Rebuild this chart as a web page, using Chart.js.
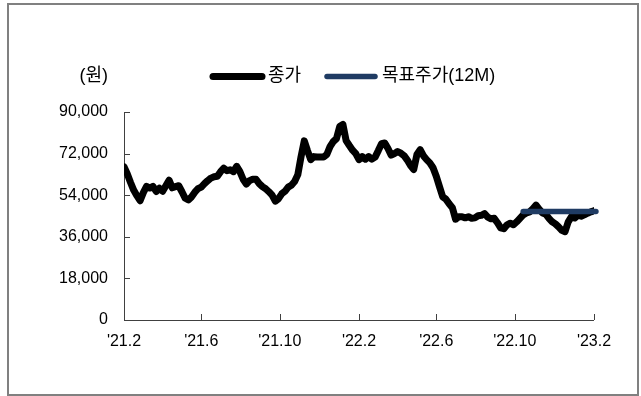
<!DOCTYPE html>
<html>
<head>
<meta charset="utf-8">
<style>
  html, body { margin: 0; padding: 0; background: #fff; }
  #wrap { width: 641px; height: 396px; }
  canvas { display: block; }
</style>
<script src="https://cdn.jsdelivr.net/npm/chart.js@4/dist/chart.umd.min.js"></script>
</head>
<body>
<div id="wrap"><canvas id="c" width="641" height="396"></canvas></div>
<script>
// Closing price, one value every 5 calendar days from 2021-02-01
const stepDays = 5;
const closePrices = [
  66300, 63300, 59600, 56200, 53800, 51600, 55100, 57800, 57100, 57800,
  55600, 57000, 55700, 58100, 60500, 57200, 57700, 58100, 55500, 52700,
  52000, 53300, 55300, 56800, 57500, 59000, 60300, 61400, 62000, 62200,
  64200, 65700, 64600, 65000, 64200, 66500, 64200, 60900, 58800, 60300,
  60900, 60900, 59000, 57700, 56800, 55500, 54000, 51400, 52500, 54600,
  55700, 57500, 58300, 59900, 62900, 70700, 77500, 73300, 69400, 70700,
  70500, 70500, 70500, 71600, 75000, 77200, 78500, 83700, 84600, 77600,
  75500, 73500, 72000, 69400, 70700, 69600, 70700, 69600, 70500, 73300,
  76300, 76600, 74200, 71300, 72000, 72900, 72200, 71100, 69200, 66800,
  65100, 71600, 73700, 71100, 69400, 68000, 65900, 62200, 57700, 53300,
  52300, 50300, 48600, 43600, 44700, 44700, 44200, 44700, 44000, 44200,
  45100, 45300, 46000, 44500, 43800, 44000, 42100, 39900, 39500, 41200,
  41900, 41200, 42500, 44000, 45500, 46300, 46800, 48100, 49700, 47900,
  46300, 45800, 44000, 42500, 41600, 40300, 38800, 38200, 42500, 44700,
  44100, 45300, 44900, 45500, 46200, 46800, 47300
];

// 12-month target price (days since 2021-02-01)
const targetDays = [620, 733];
const targetPrices = [47000, 47000];

// Axis ticks
const xTickDays = [0, 120, 242, 365, 485, 607, 730];
const xTickLabels = ["'21.2", "'21.6", "'21.10", "'22.2", "'22.6", "'22.10", "'23.2"];
const yTickValues = [0, 18000, 36000, 54000, 72000, 90000];

const seriesNames = ['종가', '목표주가(12M)'];
const unitLabel = '(원)';

const FONT = '"Liberation Sans", Arial, "Noto Sans CJK KR", sans-serif';

const closePoints = closePrices.map((v, i) => ({ x: i * stepDays, y: v }));
const targetPoints = targetDays.map((d, i) => ({ x: d, y: targetPrices[i] }));

// Frame, axis lines with inward ticks, unit label and legend
const decorations = {
  id: 'decorations',
  beforeDraw(chart) {
    const ctx = chart.ctx;
    ctx.save();
    ctx.strokeStyle = '#808080';
    ctx.lineWidth = 2;
    ctx.strokeRect(8, 4, 630, 391);
    ctx.restore();
  },
  beforeDatasetsDraw(chart) {
    const ctx = chart.ctx;
    const xs = chart.scales.x, ys = chart.scales.y;
    const left = xs.getPixelForValue(0);
    const right = xs.getPixelForValue(730);
    const bottom = ys.getPixelForValue(0);
    const top = ys.getPixelForValue(90000);
    ctx.save();
    ctx.strokeStyle = '#404040';
    ctx.lineWidth = 1;
    ctx.beginPath();
    ctx.moveTo(left + 0.5, top);
    ctx.lineTo(left + 0.5, bottom + 0.5);
    ctx.lineTo(right, bottom + 0.5);
    yTickValues.forEach(v => {
      const py = Math.round(ys.getPixelForValue(v)) + 0.5;
      ctx.moveTo(left, py);
      ctx.lineTo(left + 6, py);
    });
    xTickDays.forEach(d => {
      const px = Math.round(xs.getPixelForValue(d)) + 0.5;
      ctx.moveTo(px, bottom);
      ctx.lineTo(px, bottom - 6);
    });
    ctx.stroke();
    ctx.restore();
  },
  afterDraw(chart) {
    const ctx = chart.ctx;
    const ly = 76.5;
    ctx.save();
    ctx.font = '18px ' + FONT;
    ctx.fillStyle = '#000';
    ctx.textBaseline = 'middle';
    ctx.textAlign = 'right';
    ctx.fillText(unitLabel, 108, ly);

    const items = [
      { x0: 213, x1: 262, tx: 268 },
      { x0: 327, x1: 375, tx: 382 }
    ];
    ctx.textAlign = 'left';
    ctx.lineCap = 'round';
    items.forEach((it, i) => {
      const ds = chart.data.datasets[i];
      ctx.strokeStyle = ds.borderColor;
      ctx.lineWidth = ds.borderWidth;
      ctx.beginPath();
      ctx.moveTo(it.x0, ly);
      ctx.lineTo(it.x1, ly);
      ctx.stroke();
      ctx.fillText(ds.label, it.tx, ly);
    });
    ctx.restore();
  }
};

new Chart(document.getElementById('c'), {
  type: 'line',
  data: {
    datasets: [
      {
        label: seriesNames[0],
        data: closePoints,
        borderColor: '#000000',
        borderWidth: 7,
        borderCapStyle: 'round',
        borderJoinStyle: 'round',
        pointRadius: 0,
        tension: 0,
        fill: false,
        order: 1
      },
      {
        label: seriesNames[1],
        data: targetPoints,
        borderColor: '#1f3b63',
        borderWidth: 5.5,
        borderCapStyle: 'round',
        borderJoinStyle: 'round',
        pointRadius: 0,
        tension: 0,
        fill: false,
        clip: false,
        order: 0
      }
    ]
  },
  options: {
    responsive: false,
    animation: false,
    devicePixelRatio: 1,
    layout: { padding: { left: 0, top: 112, right: 47, bottom: 36 } },
    plugins: {
      legend: { display: false },
      tooltip: { enabled: false }
    },
    scales: {
      x: {
        type: 'linear',
        min: 0,
        max: 730,
        grid: { display: false, drawTicks: false },
        border: { display: false },
        afterBuildTicks(scale) {
          scale.ticks = xTickDays.map(v => ({ value: v }));
        },
        afterFit(scale) { scale.height = 40; },
        ticks: {
          autoSkip: false,
          maxRotation: 0,
          padding: 12,
          color: '#000',
          font: { family: FONT, size: 16 },
          callback(value) {
            const k = xTickDays.indexOf(value);
            return k >= 0 ? xTickLabels[k] : '';
          }
        }
      },
      y: {
        min: 0,
        max: 90000,
        grid: { display: false, drawTicks: false },
        border: { display: false },
        afterBuildTicks(scale) {
          scale.ticks = yTickValues.map(v => ({ value: v }));
        },
        afterFit(scale) { scale.width = 124; },
        ticks: {
          padding: 16,
          color: '#000',
          font: { family: FONT, size: 16 },
          callback(value) { return value.toLocaleString('en-US'); }
        }
      }
    }
  },
  plugins: [decorations]
});
</script>
</body>
</html>
